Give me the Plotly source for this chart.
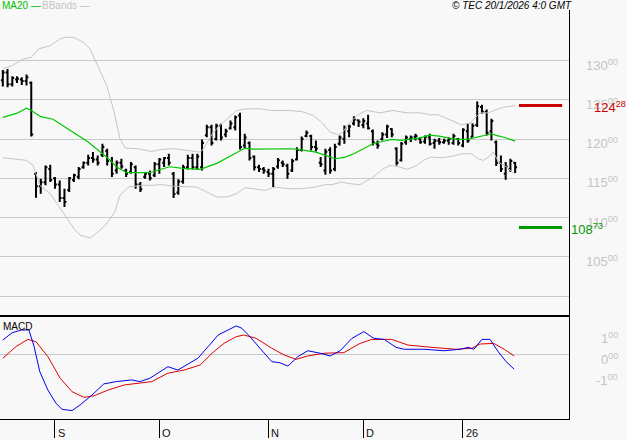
import plotly.graph_objects as go

# ---------------- data (price shown in units, decimals rendered small) ----------------
x_tick_idx = [11, 33, 56, 76, 97]
x_tick_labels = ["S", "O", "N", "D", "26"]

price_ticks = [105, 110, 115, 120, 125, 130]
macd_ticks = [1, 0, -1]

opens = [127.50, 128.50, 127.00, 127.60, 127.60, 127.40, 127.20, 115.60, 114.00, 114.50,
         116.20, 115.00, 114.20, 112.50, 113.50, 114.80, 115.20, 116.40, 117.00, 117.60,
         117.40, 118.00, 118.50, 117.20, 116.00, 117.00, 116.00, 115.80, 116.40, 114.20,
         115.20, 115.60, 115.40, 116.80, 117.00, 117.60, 115.60, 113.20, 114.60, 116.40,
         117.60, 116.40, 116.40, 120.50, 121.50, 120.00, 121.70, 120.60, 121.40, 121.50,
         123.00, 119.20, 119.50, 117.80, 116.40, 116.20, 115.80, 115.60, 116.50, 117.00,
         116.60, 116.00, 117.40, 118.60, 120.40, 120.40, 119.00, 117.00, 116.00, 118.60,
         116.20, 119.40, 120.00, 121.00, 122.00, 122.40, 121.80, 122.00, 121.00, 119.40,
         120.00, 120.60, 121.30, 118.80, 117.30, 119.60, 120.00, 120.30, 120.00, 119.70,
         120.20, 119.50, 119.80, 119.60, 119.80, 119.50, 120.00, 119.20, 121.00, 120.30,
         121.80, 124.10, 123.50, 121.00, 119.60, 117.00, 115.60, 116.20, 117.00]
highs = [128.82, 128.94, 128.01, 128.01, 127.89, 128.23, 127.34, 115.80, 114.95, 116.65,
         116.74, 115.17, 114.74, 113.68, 115.17, 115.59, 116.44, 117.16, 118.01, 118.35,
         117.92, 119.41, 118.77, 117.71, 117.29, 117.50, 116.23, 117.07, 116.65, 114.53,
         115.80, 116.01, 117.07, 117.58, 117.71, 118.13, 115.80, 114.87, 116.74, 118.01,
         118.13, 118.13, 119.96, 121.82, 121.82, 121.95, 121.95, 121.31, 122.37, 123.01,
         123.35, 120.68, 119.70, 117.92, 116.74, 116.44, 116.23, 116.44, 117.58, 117.29,
         116.86, 117.50, 118.98, 120.34, 121.10, 120.55, 119.83, 117.71, 118.77, 118.98,
         119.41, 120.47, 121.74, 121.82, 122.93, 122.50, 122.67, 123.10, 121.23, 119.83,
         120.89, 121.82, 121.40, 118.98, 119.62, 120.47, 120.47, 120.68, 120.25, 120.47,
         120.68, 120.04, 120.13, 120.04, 120.25, 120.68, 120.13, 121.40, 121.95, 122.03,
         124.79, 124.37, 123.77, 122.59, 119.83, 117.92, 117.07, 117.50, 117.07]
lows = [126.70, 126.61, 126.70, 127.16, 126.91, 126.83, 120.34, 112.54, 113.05, 114.11,
        114.53, 113.68, 111.99, 111.35, 113.26, 114.53, 114.87, 116.23, 116.65, 116.99,
        116.65, 117.71, 116.65, 115.17, 115.59, 116.23, 115.17, 115.59, 113.68, 113.26,
        114.95, 114.74, 115.17, 115.59, 116.44, 116.65, 112.50, 112.92, 114.32, 116.14,
        116.14, 116.14, 116.01, 120.25, 119.19, 119.83, 119.83, 120.25, 121.23, 121.10,
        118.69, 118.77, 117.29, 116.01, 115.80, 115.59, 115.17, 113.89, 116.23, 116.44,
        114.95, 115.80, 117.29, 118.43, 120.25, 118.56, 118.43, 116.44, 115.46, 115.59,
        115.89, 119.19, 119.41, 120.25, 121.74, 121.53, 121.40, 121.23, 119.19, 118.77,
        119.83, 120.13, 120.25, 116.65, 117.16, 119.28, 119.62, 119.83, 119.41, 119.41,
        119.19, 118.77, 119.28, 119.41, 119.28, 119.28, 119.19, 118.98, 119.53, 120.25,
        121.53, 123.22, 120.47, 119.83, 116.57, 115.80, 114.83, 115.80, 115.68]
closes = [128.50, 127.00, 127.80, 127.70, 127.40, 127.90, 120.60, 114.00, 114.50, 116.40,
          114.80, 114.20, 112.50, 112.00, 115.00, 115.40, 116.20, 117.00, 117.60, 117.40,
          117.00, 119.00, 117.20, 115.60, 117.00, 116.50, 115.60, 116.80, 114.20, 113.60,
          115.60, 115.00, 116.80, 117.40, 117.60, 117.00, 113.00, 114.60, 116.40, 117.60,
          116.40, 117.80, 119.50, 121.50, 119.50, 121.70, 120.20, 121.00, 122.00, 122.80,
          119.00, 120.20, 117.60, 116.40, 116.20, 116.00, 115.60, 116.20, 117.30, 116.80,
          115.60, 117.20, 118.60, 120.00, 120.80, 119.00, 118.80, 116.80, 118.40, 116.00,
          119.00, 120.20, 121.40, 121.60, 122.50, 122.20, 122.30, 121.40, 119.60, 119.20,
          120.60, 121.60, 120.60, 117.00, 119.40, 120.20, 120.20, 120.40, 119.60, 120.30,
          119.40, 119.80, 119.60, 119.80, 120.00, 120.40, 119.50, 121.20, 119.80, 121.70,
          124.20, 123.50, 120.80, 122.30, 117.00, 116.20, 116.50, 117.20, 116.40]

ma20_x = [0, 3, 5, 6, 8, 10.6, 13.5, 16.3, 18, 20.5, 22.6, 24, 26.1, 28, 31, 33, 35.2, 38, 41.6,
          45.1, 48.5, 51, 53, 55.7, 58, 60, 62, 64, 66, 68, 70, 71, 72, 74, 76, 78, 80, 82, 84,
          86, 88, 90, 92, 94, 96, 98, 100, 102, 103, 104, 106, 108]
ma20_v = [122.78, 123.31, 123.93, 123.65, 122.86, 122.53, 121.38, 120.31, 119.62, 118.40, 117.34,
          116.44, 115.72, 115.72, 115.72, 116.10, 116.48, 116.27, 116.15, 116.91, 117.97, 118.83,
          118.72, 118.77, 118.77, 118.77, 118.73, 118.52, 118.35, 117.92, 117.50, 117.58, 117.68,
          118.13, 118.77, 119.41, 119.70, 119.96, 119.83, 119.96, 120.17, 120.51, 120.38, 120.13,
          119.96, 119.96, 120.25, 120.47, 120.68, 120.47, 120.17, 119.75]

bb_up_x = [0, 2, 4.3, 6, 7.5, 10, 12, 13, 15, 17, 18.4, 19.4, 21.9, 23.3, 24.7, 25.8, 28.6, 31.4,
           33.5, 36, 39.5, 41.6, 42.3, 44.4, 46.5, 49.3, 51.4, 54.2, 56.7, 60.2, 63, 65.5, 67.2,
           69, 70.7, 71.5, 73.2, 74.9, 76.7, 79.5, 82.3, 85.2, 88, 90.1, 91.8, 94.6, 96.7, 98.5,
           99.6, 100.6, 102.4, 103.5, 105.6, 108]
bb_up_v = [128.99, 129.37, 130.22, 130.43, 131.49, 131.91, 132.76, 132.97, 132.97, 132.34, 131.49,
           130.22, 126.83, 123.86, 120.04, 118.86, 118.77, 118.43, 118.69, 118.77, 118.56, 118.35,
           118.77, 120.89, 122.16, 123.65, 123.86, 123.86, 123.65, 123.65, 123.52, 123.01, 122.16,
           120.89, 120.55, 120.80, 122.16, 123.10, 123.65, 123.35, 123.65, 123.35, 123.35, 123.10,
           123.10, 122.37, 121.82, 122.08, 122.80, 123.35, 123.35, 123.65, 124.07, 124.28]

bb_lo_x = [0, 2, 5, 6.4, 7.8, 10, 11.4, 13.5, 15, 16.3, 18.4, 19.4, 21.6, 23.6, 24.7, 26.5, 29,
           31.4, 33.5, 36, 40.9, 43, 45.1, 47.2, 49.3, 51.1, 52.8, 55.3, 57.4, 60.2, 63, 65.8,
           67.9, 69.3, 71.4, 73.2, 75.3, 78.1, 80.2, 81.6, 83.7, 85.2, 87.3, 88.7, 90.1, 92.5,
           94.6, 96.7, 98.8, 100.2, 101.3, 102.4, 103.4, 104.5, 106.2, 108]
bb_lo_v = [117.63, 117.50, 117.29, 116.65, 114.11, 113.05, 111.77, 109.87, 108.59, 107.75, 107.41,
           107.83, 109.02, 110.71, 112.83, 113.89, 114.11, 114.11, 114.20, 114.00, 113.89, 113.26,
           112.62, 112.62, 113.05, 113.81, 113.68, 113.47, 113.89, 113.68, 113.68, 113.89, 114.19,
           114.19, 114.53, 114.32, 114.19, 115.17, 116.23, 116.65, 116.44, 116.14, 116.65, 117.29,
           117.71, 117.63, 117.80, 118.13, 118.13, 117.50, 117.29, 117.71, 118.35, 117.07, 116.44,
           115.46]

macd_x = [0, 2, 4, 5.5, 6.6, 7.8, 9.5, 11.2, 12.5, 14.6, 16.3, 18.8, 21.3, 23.9, 27.2, 28.9, 31,
          33.1, 34.8, 36.9, 38.6, 41.1, 43.3, 45.4, 47.5, 49.2, 50.4, 52.1, 54.2, 56.7, 58.4, 60.1,
          62.2, 64.3, 66.9, 69, 71.1, 73.6, 76.1, 78.2, 80.4, 82.9, 84.6, 88.8, 93, 96.4, 98.1,
          99.3, 101, 102.7, 104.4, 106.1, 107.8]
macd_v = [0.68, 1.03, 1.16, 1.16, 0.37, -0.83, -1.70, -2.33, -2.62, -2.68, -2.41, -1.94, -1.41,
          -1.30, -1.22, -1.30, -1.14, -0.83, -0.59, -0.75, -0.51, -0.19, 0.37, 0.92, 1.16, 1.35,
          1.24, 0.84, 0.29, -0.35, -0.40, -0.56, -0.11, 0.17, 0.05, -0.08, 0.17, 0.76, 1.08, 0.76,
          0.71, 0.33, 0.24, 0.24, 0.17, 0.24, 0.33, 0.24, 0.71, 0.71, 0.13, -0.35, -0.71]

signal_x = [0, 2.8, 5.3, 7, 9.5, 12.1, 14.6, 17.1, 19.2, 22.2, 25.6, 28.9, 31.4, 34.8, 38.2, 41.6,
            44.1, 46.6, 49.2, 50.8, 53.4, 56.7, 59.3, 61.8, 64.3, 67.7, 71.9, 75.3, 77.8, 82, 85.4,
            90.5, 95.5, 98.9, 100.6, 103.5, 105.7, 107.8]
signal_v = [-0.19, 0.37, 0.71, 0.60, -0.11, -1.14, -1.78, -2.05, -1.98, -1.70, -1.46, -1.35, -1.30,
            -0.90, -0.75, -0.51, 0.05, 0.52, 0.84, 0.92, 0.76, 0.29, -0.03, -0.24, -0.08, 0.05,
            0.08, 0.52, 0.71, 0.71, 0.44, 0.33, 0.24, 0.29, 0.49, 0.52, 0.24, -0.08]

level_high = 124.28
level_low = 108.73
level_x = [108.8, 117.9]

# ---------------- figure ----------------
idx = list(range(len(opens)))
X_RANGE = [-0.59, 119.35]
FONT = "Liberation Sans, Arial, sans-serif"
BG = "#f8f8f8"

fig = go.Figure()
fig.add_trace(go.Scatter(x=bb_up_x, y=bb_up_v, mode="lines", line=dict(color="#c4c4c4", width=1),
                         hoverinfo="skip", xaxis="x", yaxis="y"))
fig.add_trace(go.Scatter(x=bb_lo_x, y=bb_lo_v, mode="lines", line=dict(color="#c4c4c4", width=1),
                         hoverinfo="skip", xaxis="x", yaxis="y"))
fig.add_trace(go.Ohlc(x=idx, open=opens, high=highs, low=lows, close=closes,
                      increasing=dict(line=dict(color="black", width=2)),
                      decreasing=dict(line=dict(color="black", width=2)),
                      tickwidth=0.4, hoverinfo="skip", xaxis="x", yaxis="y"))
fig.add_trace(go.Scatter(x=ma20_x, y=ma20_v, mode="lines", line=dict(color="#00c800", width=1.2),
                         hoverinfo="skip", xaxis="x", yaxis="y"))
fig.add_trace(go.Scatter(x=level_x, y=[level_high] * 2, mode="lines",
                         line=dict(color="#cc0000", width=3), hoverinfo="skip", xaxis="x", yaxis="y"))
fig.add_trace(go.Scatter(x=level_x, y=[level_low] * 2, mode="lines",
                         line=dict(color="#009900", width=3), hoverinfo="skip", xaxis="x", yaxis="y"))

fig.add_trace(go.Scatter(x=signal_x, y=signal_v, mode="lines", line=dict(color="#e00000", width=1),
                         hoverinfo="skip", xaxis="x2", yaxis="y2"))
fig.add_trace(go.Scatter(x=macd_x, y=macd_v, mode="lines", line=dict(color="#0000ee", width=1),
                         hoverinfo="skip", xaxis="x2", yaxis="y2"))

fig.update_layout(
    width=627, height=440,
    margin=dict(l=0, r=58, t=10, b=21),
    paper_bgcolor=BG, plot_bgcolor=BG,
    showlegend=False,
    font=dict(family=FONT, size=11, color="#000"),
    xaxis=dict(domain=[0, 1], range=X_RANGE, anchor="y", showticklabels=False, showgrid=False,
               zeroline=False, ticks="", showline=True, linecolor="black", linewidth=2,
               rangeslider=dict(visible=False)),
    yaxis=dict(domain=[0.2535, 1], range=[97.54, 136.46], side="right", anchor="x",
               tickvals=[100] + price_ticks, showticklabels=False, showgrid=True,
               gridcolor="#c8c8c8", gridwidth=1, zeroline=False, showline=True,
               linecolor="black", linewidth=1, ticks=""),
    xaxis2=dict(domain=[0, 1], range=X_RANGE, anchor="y2", tickvals=x_tick_idx,
                showticklabels=False, ticks="outside", ticklen=18, tickwidth=1, tickcolor="black",
                showgrid=False, zeroline=False, showline=True, linecolor="black", linewidth=1),
    yaxis2=dict(domain=[0, 0.2518], range=[-3.081, 1.824], side="right", anchor="x2",
                tickvals=[0], showticklabels=False, showgrid=True, gridcolor="#c8c8c8",
                zeroline=False, showline=True, linecolor="black", linewidth=1, ticks=""),
)

ann = []
# right price labels
for v in price_ticks:
    ann.append(dict(x=1, xref="paper", y=v, yref="y", xanchor="right", yanchor="middle",
                    xshift=51, yshift=-4, showarrow=False,
                    text=f"{v}<sup>00</sup>", font=dict(family=FONT, size=13, color="#c4c4c4")))
for v in macd_ticks:
    ann.append(dict(x=1, xref="paper", y=v, yref="y2", xanchor="right", yanchor="middle",
                    xshift=51, yshift=-5, showarrow=False,
                    text=f"{v}<sup>00</sup>", font=dict(family=FONT, size=13, color="#c4c4c4")))
# level labels
hi_int, hi_dec = f"{level_high:.2f}".split(".")
lo_int, lo_dec = f"{level_low:.2f}".split(".")
ann.append(dict(x=1, xref="paper", y=level_high, yref="y", xanchor="left", yanchor="middle",
                xshift=23, yshift=-1, showarrow=False, text=f"{hi_int}<sup>{hi_dec}</sup>",
                font=dict(family=FONT, size=13, color="#cc0000")))
ann.append(dict(x=1, xref="paper", y=level_low, yref="y", xanchor="left", yanchor="middle",
                xshift=0, yshift=-1, showarrow=False, text=f"{lo_int}<sup>{lo_dec}</sup>",
                font=dict(family=FONT, size=13, color="#009900")))
# x labels
for xi, lab in zip(x_tick_idx, x_tick_labels):
    ann.append(dict(x=xi, xref="x2", y=0, yref="paper", xanchor="left", yanchor="middle",
                    xshift=1, yshift=-14, showarrow=False, text=lab,
                    font=dict(family=FONT, size=11, color="#111")))
# legend / titles
ann.append(dict(x=0, xref="paper", y=1, yref="paper", xanchor="left", yanchor="middle",
                xshift=0, yshift=5, showarrow=False, text="MA20 —",
                font=dict(family=FONT, size=10, color="#00c000")))
ann.append(dict(x=0, xref="paper", y=1, yref="paper", xanchor="left", yanchor="middle",
                xshift=40, yshift=5, showarrow=False, text="BBands —",
                font=dict(family=FONT, size=10, color="#c4c4c4")))
ann.append(dict(x=1, xref="paper", y=1, yref="paper", xanchor="right", yanchor="middle",
                xshift=5, yshift=5, showarrow=False, text="<i>© TEC 20/1/2026 4:0 GMT</i>",
                font=dict(family=FONT, size=10, color="#000")))
ann.append(dict(x=0, xref="paper", y=0.2518, yref="paper", xanchor="left", yanchor="top",
                xshift=1, yshift=-3, showarrow=False, text="MACD",
                font=dict(family=FONT, size=10, color="#000")))
fig.update_layout(annotations=ann)

fig.write_html("out.html", config={"displayModeBar": False},
               post_script="document.body.style.margin='0px';document.body.style.padding='0px';")
